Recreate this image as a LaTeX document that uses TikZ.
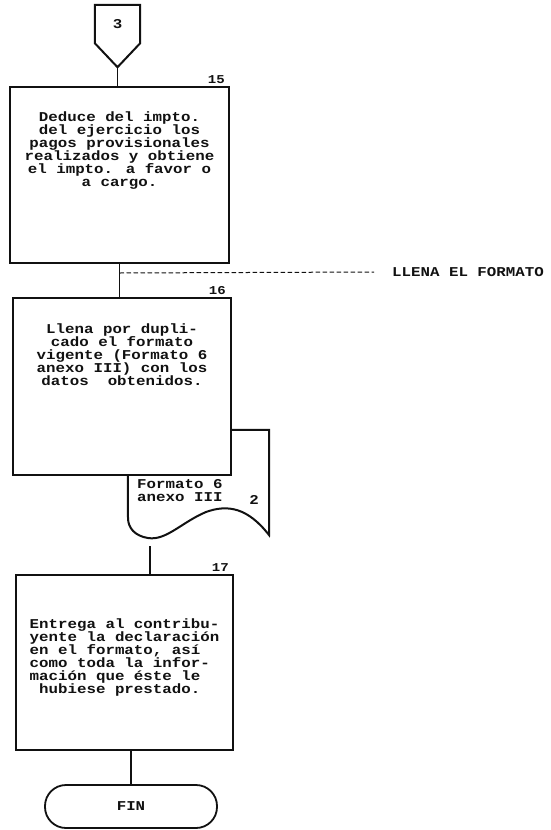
\documentclass[tikz,border=0pt]{standalone}
\usepackage{fontspec}
\newfontfamily\dotfont[FakeStretch=1.17]{Liberation Mono}
\usetikzlibrary{
  positioning,
  calc
}
\definecolor{ink}{HTML}{111111}
\definecolor{paper}{HTML}{FFFFFF}
\newcommand{\dottext}{\dotfont\bfseries\fontsize{13.5}{13}\selectfont}
\newcommand{\dotsmall}{\dotfont\bfseries\fontsize{12}{12}\selectfont}
\tikzset{
  base/.style={
    text=ink,
    font=\dottext,
    align=center,
    inner sep=2pt,
  },
  proc/.style={
    draw=ink,
    fill=paper,
    line width=2pt,
    inner sep=0pt,
  },
  boxtext/.style={
    base,
  },
  numlabel/.style={
    base,
    font=\dotsmall,
    inner sep=1pt,
  },
  term/.style={
    base,
    draw=ink,
    fill=paper,
    line width=1.8pt,
    rounded corners=21pt,
    minimum width=172pt,
    minimum height=43pt,
  },
  link/.style={
    draw=ink,
    line width=1.3pt,
  },
  dashlink/.style={
    draw=ink,
    line width=1pt,
    dash pattern=on 4.5pt off 2.5pt,
  },
  outline/.style={
    draw=ink,
    line width=2pt,
    line join=miter,
  },
}

\begin{document}
\begin{tikzpicture}[x=1pt, y=-1pt]

\useasboundingbox (0,0) rectangle (551,830);

% === Off-page connector ===

\node[base, minimum width=45pt, minimum height=38pt, inner sep=0pt]
  (conn3) at (117.5,24) {3};
\draw[outline] (conn3.north west) -- (conn3.north east) -- (conn3.south east)
  -- ($(conn3.south)+(0,24)$) coordinate (conn3tip) -- (conn3.south west) -- cycle;

% === Step 15 ===

\node[proc, minimum width=219pt, minimum height=176pt]
  (act15) at (119.5,175) {};
\node[boxtext, below=24pt of act15.north]
  (txt15) {Deduce del impto.\\del ejercicio los\\pagos provisionales\\realizados y obtiene\\el impto. a favor o\\a cargo.};
\node[numlabel, above left=1pt and 4pt of act15.north east]
  (num15) {15};

\draw[link] (conn3tip) -- (conn3tip |- act15.north);

% === Document: Formato 6 anexo III ===

\node[minimum width=141pt, minimum height=107pt, inner sep=0pt]
  (doc) at (198.5,483.5) {};
\draw[outline] (doc.north west) -- (doc.north east) -- (269,535)
  .. controls (248,508) and (228,504) .. (206,512)
  .. controls (182,522) and (166,541) .. (148,538)
  .. controls (135,536) and (128,528) .. (128,518) -- cycle;
\node[base, align=left, anchor=north west, inner sep=0pt]
  (docnote) at (137,479) {Formato 6\\anexo III};
\node[base, inner sep=0pt]
  (copies) at (254,500) {2};

% === Step 16 ===

\node[proc, minimum width=218pt, minimum height=177pt]
  (act16) at (122,386.5) {};
\node[boxtext, below=25pt of act16.north]
  (txt16) {Llena por dupli-\\cado el formato\\vigente (Formato 6\\anexo III) con los\\datos~ obtenidos.};
\node[numlabel, above left=1pt and 5pt of act16.north east]
  (num16) {16};

\draw[link] (act15.south) -- (act15.south |- act16.north);

% Side note
\node[base, anchor=west]
  (note) at (390,272) {LLENA EL FORMATO};
\coordinate (tap) at ($(act15.south)+(0,9)$);
\draw[dashlink] (tap) -- ($(note.west)+(-16,0)$);

% === Step 17 ===

\node[proc, minimum width=217pt, minimum height=175pt]
  (act17) at (124.5,662.5) {};
\node[boxtext, align=left, below=43pt of act17.north]
  (txt17) {Entrega al contribu-\\yente la declaración\\en el formato, así\\como toda la infor-\\mación que éste le\\~hubiese prestado.};
\node[numlabel, above left=1pt and 4pt of act17.north east]
  (num17) {17};

\coordinate (docout) at (150,546);
\draw[link] (docout) -- (docout |- act17.north);

% === End ===

\node[term] (fin) at (131,806.5) {FIN};

\draw[link] (fin.north |- act17.south) -- (fin.north);

\end{tikzpicture}
\end{document}
